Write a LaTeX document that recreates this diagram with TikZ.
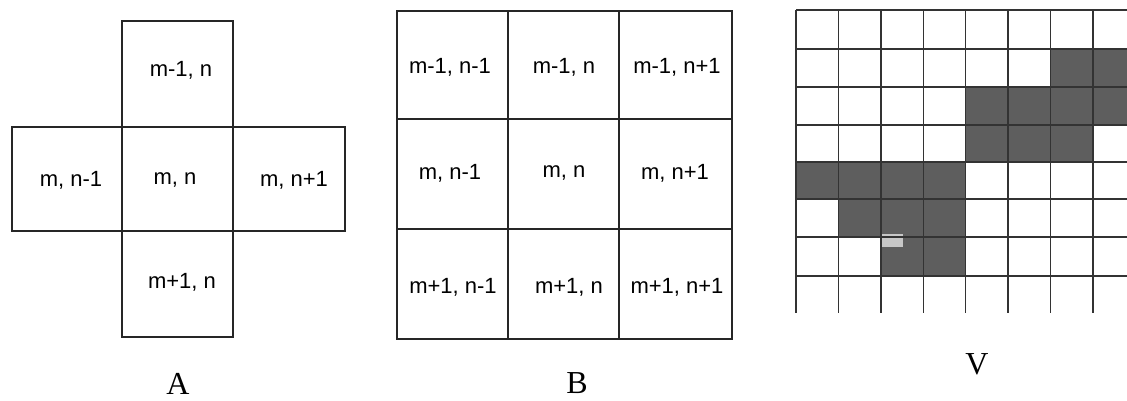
\documentclass[tikz,border=0pt]{standalone}
\usepackage{fontspec}
\setmainfont{Liberation Serif}
\newfontfamily\cellfont{Liberation Sans}
\begin{document}
\begin{tikzpicture}[x=1pt,y=-1pt,
  box/.style={draw=black!85,line width=1.1pt},
  celltext/.style={inner sep=0pt,font=\cellfont\fontsize{22}{26}\selectfont},
  paneltitle/.style={inner sep=0pt,font=\fontsize{32}{37}\selectfont},
  gridline/.style={draw=black!80,line width=1.3pt},
  shade/.style={fill=black!63}]
\useasboundingbox[fill=white] (0,0) rectangle (1127,401);

% ---------- Panel A ----------
\draw[box] (122,21) rectangle (233,337);
\draw[box] (12,127) rectangle (345,231);
\node[celltext] (a1) at (181,70) {m-1, n};
\node[celltext] (a2) at (71,180) {m, n-1};
\node[celltext] (a3) at (175,180) {m, n};
\node[celltext] (a4) at (294,180) {m, n+1};
\node[celltext] (a5) at (182,282) {m+1, n};
\node[paneltitle] (ta) at (178,384) {A};

% ---------- Panel B ----------
\draw[box] (397,11) rectangle (732,339);
\draw[box] (508,11) -- (508,339);
\draw[box] (619,11) -- (619,339);
\draw[box] (397,119) -- (732,119);
\draw[box] (397,229) -- (732,229);
\node[celltext] (b11) at (450,67) {m-1, n-1};
\node[celltext] (b12) at (564,67) {m-1, n};
\node[celltext] (b13) at (677,67) {m-1, n+1};
\node[celltext] (b21) at (450,173) {m, n-1};
\node[celltext] (b22) at (564,173) {m, n};
\node[celltext] (b23) at (675,173) {m, n+1};
\node[celltext] (b31) at (453,287) {m+1, n-1};
\node[celltext] (b32) at (569,287) {m+1, n};
\node[celltext] (b33) at (677,287) {m+1, n+1};
\node[paneltitle] (tb) at (577,383) {B};

% ---------- Panel V ----------
\begin{scope}
\clip (790,0) rectangle (1127,330);
\fill[shade] (1050,49) rectangle (1135,87);
\fill[shade] (966,87) rectangle (1135,125);
\fill[shade] (966,125) rectangle (1093,162);
\fill[shade] (796,162) rectangle (966,199);
\fill[shade] (838,199) rectangle (966,237);
\fill[shade] (881,237) rectangle (966,276);
\fill[black!22] (882,234) rectangle (903,247);
\foreach \x in {796,838.4,880.9,923.3,965.7,1008.1,1050.6,1093}
  \draw[gridline] (\x,10) -- (\x,313);
\foreach \y in {10,49,87,125,162,199,237,276}
  \draw[gridline] (796,\y) -- (1127,\y);
\end{scope}
\node[paneltitle] (tv) at (977,364) {V};
\end{tikzpicture}
\end{document}
